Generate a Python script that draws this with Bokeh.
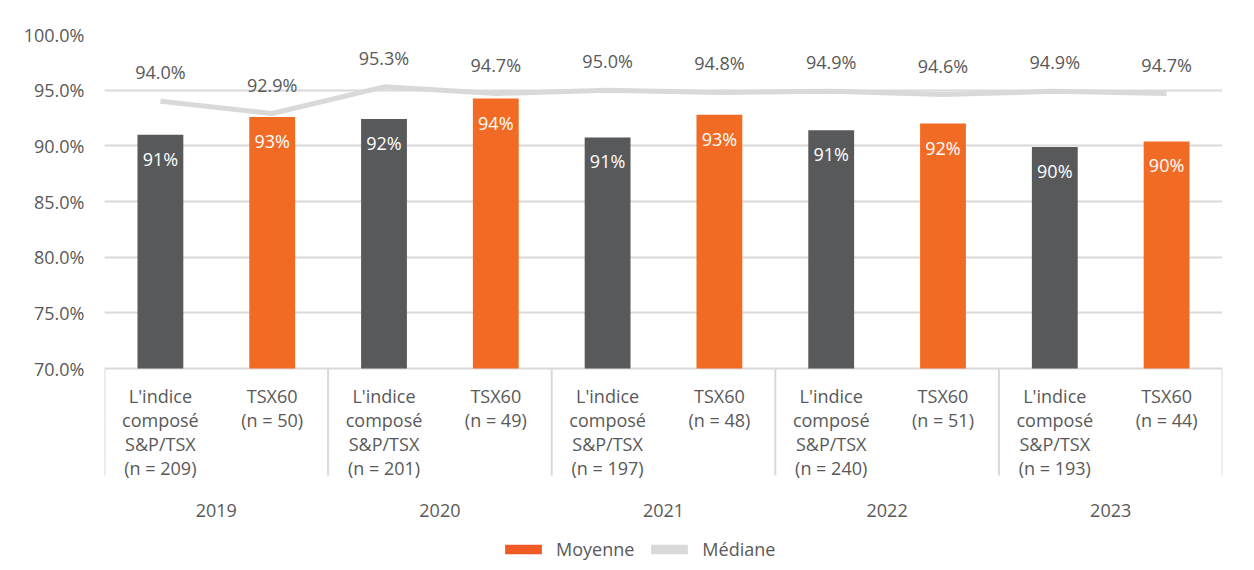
from bokeh.plotting import figure
from bokeh.models import (Range1d, FixedTicker, Legend, LegendItem, ColumnDataSource,
                          CustomJSTickFormatter)
from bokeh.core.properties import value
from bokeh.embed import file_html
from bokeh.resources import INLINE

# ---------------- data ----------------
years = ["2019", "2020", "2021", "2022", "2023"]
index_names = ["L'indice\ncomposé\nS&P/TSX", "TSX60"]
n_counts = [209, 50, 201, 49, 197, 48, 240, 51, 193, 44]
moyenne = [91.0, 92.6, 92.4, 94.25, 90.75, 92.8, 91.4, 92.0, 89.9, 90.4]
mediane = [94.0, 92.9, 95.3, 94.7, 95.0, 94.8, 94.9, 94.6, 94.9, 94.7]
y_ticks = [70, 75, 80, 85, 90, 95, 100]

# ---------------- styles ----------------
FONT = "Open Sans"
TXT = "#595959"
GRID = "#d9d9d9"
GRAY_BAR = "#58595b"
ORANGE_BAR = "#f26b25"
ORANGE_LEG = "#f05a24"
MED_COL = "#d9d9d9"

W, H = 1246, 562
LEFT, RIGHT, TOP = 104, 24, 34
px_per_unit = 334 / 30.0
frame_h = H - TOP
y_top = 100
y_bottom = y_top - frame_h / px_per_unit
AXIS_Y = y_ticks[0]

n = len(moyenne)
xs = [i + 0.5 for i in range(n)]
bar_colors = [GRAY_BAR if i % 2 == 0 else ORANGE_BAR for i in range(n)]
cat_labels = [index_names[i % 2] + "\n(n = %d)" % n_counts[i] for i in range(n)]
bar_labels = ["%d%%" % int(v + 0.5) for v in moyenne]
med_labels = ["%.1f%%" % v for v in mediane]

p = figure(width=W, height=H, output_backend="svg", toolbar_location=None,
           x_range=Range1d(0, n), y_range=Range1d(y_bottom, y_top),
           min_border_left=LEFT, min_border_right=RIGHT, min_border_top=TOP,
           min_border_bottom=0)
p.outline_line_color = None
p.xaxis.visible = False
p.xgrid.visible = False
p.ygrid.ticker = FixedTicker(ticks=y_ticks)
p.ygrid.grid_line_color = GRID
p.ygrid.grid_line_width = 2
ya = p.yaxis[0]
ya.ticker = FixedTicker(ticks=y_ticks)
ya.formatter = CustomJSTickFormatter(code="return tick.toFixed(1) + '%';")
ya.axis_line_color = None
ya.major_tick_line_color = None
ya.minor_tick_line_color = None
ya.major_label_standoff = 14
ya.major_label_text_font = FONT
ya.major_label_text_font_size = "18px"
ya.major_label_text_color = TXT

src = ColumnDataSource(dict(x=xs, top=moyenne, color=bar_colors, lab=bar_labels,
                            med=mediane, medlab=med_labels, cat=cat_labels,
                            base=[AXIS_Y] * n))

p.vbar(x="x", top="top", bottom="base", width=0.41, fill_color="color",
       line_color=None, source=src)
p.text(x="x", y="top", text="lab", source=src, text_align="center",
       text_baseline="middle", y_offset=24, text_color="white",
       text_font=value(FONT), text_font_size="18px")

p.line(x="x", y="med", source=src, line_color=MED_COL, line_width=5)
p.text(x="x", y="med", text="medlab", source=src, text_align="center",
       text_baseline="middle", y_offset=-29, text_color=TXT,
       text_font=value(FONT), text_font_size="18px")

# category labels below the axis
p.text(x="x", y="base", text="cat", source=src, text_align="center",
       text_baseline="top", y_offset=15, text_color=TXT,
       text_font=value(FONT), text_font_size="18px", text_line_height=1.0)

# year (group) labels
gx = [2 * j + 1 for j in range(len(years))]
p.text(x=gx, y=[AXIS_Y] * len(years), text=years, text_align="center",
       text_baseline="middle", y_offset=142, text_color=TXT,
       text_font=value(FONT), text_font_size="18px")

# group separators
sep_x = [2 * j for j in range(len(years) + 1)]
sep_len = 107 / px_per_unit
p.segment(x0=sep_x, x1=sep_x, y0=[AXIS_Y] * len(sep_x),
          y1=[AXIS_Y - sep_len] * len(sep_x), line_color=GRID, line_width=2)

# legend (proxy renderers that draw nothing in the plot area)
nan = float("nan")
r1 = p.vbar(x=[nan], top=[nan], width=0.4, fill_color=ORANGE_LEG, line_color=None)
r2 = p.vbar(x=[nan], top=[nan], width=0.4, fill_color=MED_COL, line_color=None)
leg = Legend(items=[LegendItem(label="Moyenne", renderers=[r1]),
                    LegendItem(label="Médiane", renderers=[r2])],
             orientation="horizontal", location=(396, 1),
             glyph_width=46, glyph_height=12, label_standoff=10, spacing=12,
             padding=0, margin=0, border_line_color=None,
             background_fill_alpha=0, label_text_font=FONT,
             label_text_font_size="18px", label_text_color=TXT)
p.add_layout(leg)

open("out.html", "w").write(file_html(p, INLINE))
